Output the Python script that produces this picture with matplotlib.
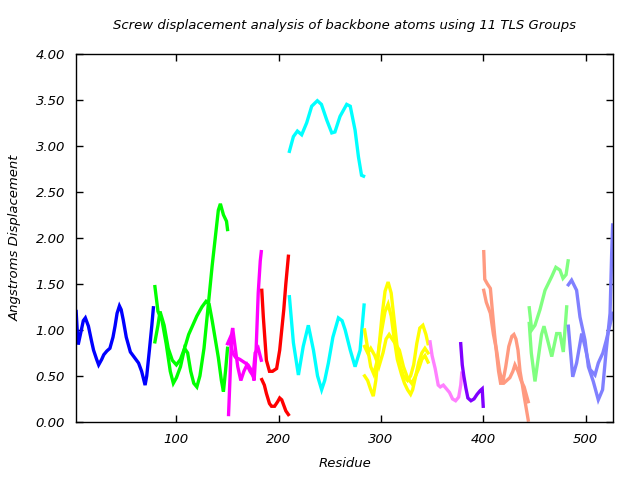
import matplotlib
matplotlib.use("Agg")
import matplotlib.pyplot as plt

# TLS group 1 (blue)
g1_x = [2, 3, 4, 6.5, 9, 11, 14, 17, 19, 22, 24, 27, 29, 32, 35, 38, 40, 42, 44.3, 46, 48, 51, 55, 59, 63, 66, 69.4, 71, 73.6, 76, 77.5]
g1_y = [1.2, 1.0, 0.84, 0.97, 1.1, 1.13, 1.04, 0.88, 0.78, 0.68, 0.62, 0.68, 0.73, 0.77, 0.8, 0.92, 1.04, 1.18, 1.26, 1.22, 1.11, 0.92, 0.76, 0.7, 0.64, 0.55, 0.4, 0.5, 0.78, 1.05, 1.24]

# TLS group 2 (green)
g2a_x = [79, 82, 86, 90, 94, 97, 100, 104, 108, 111, 114, 117, 120, 123, 127, 131, 135, 138, 141, 143, 146, 149, 150]
g2a_y = [1.47, 1.2, 1.1, 0.85, 0.55, 0.42, 0.48, 0.6, 0.8, 0.75, 0.55, 0.42, 0.38, 0.5, 0.8, 1.25, 1.7, 2.0, 2.3, 2.37, 2.25, 2.18, 2.09]
g2b_x = [79, 82, 84, 88, 92, 96, 100, 104, 108, 112, 116, 120, 125, 129, 132, 135, 138, 141, 144, 146, 148, 150]
g2b_y = [0.87, 1.05, 1.2, 1.05, 0.8, 0.67, 0.62, 0.68, 0.8, 0.95, 1.05, 1.15, 1.25, 1.31, 1.28, 1.1, 0.9, 0.7, 0.45, 0.33, 0.55, 0.8]

# TLS group 3 (magenta)
g3a_x = [151, 152.5, 154, 155, 157, 160, 163, 166, 169, 172, 175, 177, 180, 183]
g3a_y = [0.08, 0.5, 0.95, 1.02, 0.85, 0.6, 0.45, 0.55, 0.62, 0.55, 0.5, 0.75, 0.8, 0.67]
g3b_x = [150, 152, 155, 158, 162, 166, 170, 174, 176, 178, 180, 182, 183]
g3b_y = [0.85, 0.9, 0.75, 0.7, 0.68, 0.65, 0.62, 0.55, 0.45, 0.8, 1.4, 1.75, 1.85]

# TLS group 4 (red)
g4a_x = [183.5, 185, 188, 191, 194, 198, 201, 203, 205, 207, 209.5]
g4a_y = [1.43, 1.14, 0.67, 0.55, 0.55, 0.58, 0.78, 1.0, 1.22, 1.5, 1.8]
g4b_x = [183.5, 186, 188, 191, 193, 196, 199, 201, 203, 205, 207, 209.5]
g4b_y = [0.46, 0.4, 0.31, 0.2, 0.17, 0.17, 0.22, 0.26, 0.24, 0.18, 0.12, 0.08]

# TLS group 5 (cyan)
g5a_x = [210.5, 214.4, 218.3, 222.5, 227.4, 232.3, 237.8, 241.8, 247, 251.9, 255, 260, 266.5, 270, 274.7, 278, 281, 283]
g5a_y = [2.94, 3.1, 3.16, 3.12, 3.25, 3.43, 3.49, 3.45, 3.28, 3.14, 3.15, 3.32, 3.45, 3.43, 3.17, 2.88, 2.68, 2.67]
g5b_x = [210.5, 214.4, 219.3, 224, 229, 234, 238, 242, 245, 248.6, 253, 258.4, 262, 265, 270, 274.7, 279.6, 283.5]
g5b_y = [1.36, 0.86, 0.51, 0.82, 1.05, 0.78, 0.5, 0.35, 0.45, 0.64, 0.92, 1.13, 1.1, 1.0, 0.78, 0.6, 0.78, 1.27]

# TLS group 6 (yellow)
g6a_x = [284, 287, 290, 292.5, 295, 298, 301, 304, 307, 310, 313, 316, 319, 322, 326, 329, 332, 335, 338, 341, 344, 346]
g6a_y = [0.5, 0.45, 0.35, 0.28, 0.45, 0.8, 1.15, 1.42, 1.52, 1.4, 1.1, 0.8, 0.6, 0.5, 0.45, 0.5, 0.62, 0.85, 1.02, 1.05, 0.95, 0.85]
g6b_x = [284, 287, 290, 293, 296, 300, 304, 307, 310, 313, 316, 320, 323, 326, 329, 331, 334, 337, 340, 343, 346]
g6b_y = [1.0, 0.8, 0.6, 0.52, 0.65, 0.95, 1.2, 1.28, 1.15, 0.9, 0.68, 0.52, 0.42, 0.35, 0.3, 0.35, 0.5, 0.65, 0.75, 0.8, 0.75]
g6c_x = [284, 287, 290, 294, 298, 302, 305, 308, 311, 314, 318, 322, 326, 330, 333, 337, 340, 343, 346]
g6c_y = [0.82, 0.75, 0.8, 0.72, 0.6, 0.75, 0.9, 0.95, 0.9, 0.85, 0.78, 0.6, 0.48, 0.42, 0.48, 0.58, 0.68, 0.72, 0.65]

# TLS group 7 (pink)
g7_x = [348, 350, 353, 356, 358, 361, 364, 367, 370, 373, 376, 378, 379]
g7_y = [0.87, 0.72, 0.58, 0.4, 0.38, 0.4, 0.36, 0.32, 0.25, 0.23, 0.27, 0.4, 0.53]

# TLS group 8 (purple)
g8_x = [378, 379.5, 381, 383, 385, 388, 391, 394, 397, 399, 400]
g8_y = [0.85, 0.62, 0.5, 0.37, 0.26, 0.23, 0.25, 0.3, 0.34, 0.36, 0.17]

# TLS group 9 (salmon)
g9a_x = [400.5, 401.5, 404, 407, 409, 411, 413, 415, 417, 420, 423, 426, 429, 431, 434, 437, 440, 442, 444]
g9a_y = [1.85, 1.55, 1.5, 1.45, 1.2, 0.96, 0.75, 0.55, 0.42, 0.42, 0.45, 0.48, 0.55, 0.62, 0.55, 0.45, 0.38, 0.3, 0.22]
g9b_x = [400.5, 403, 407, 410, 413, 416, 419, 422, 425, 428, 430, 432, 434, 436, 438, 440, 442, 444]
g9b_y = [1.43, 1.3, 1.18, 0.95, 0.78, 0.55, 0.42, 0.6, 0.82, 0.93, 0.95, 0.9, 0.78, 0.55, 0.42, 0.28, 0.15, 0.02]

# TLS group 10 (light green)
g10a_x = [445, 447.4, 450.6, 455.5, 460.4, 467, 471, 475, 478, 481, 483]
g10a_y = [1.24, 1.0, 1.05, 1.22, 1.43, 1.58, 1.68, 1.65, 1.56, 1.6, 1.75]
g10b_x = [445, 447, 450.6, 454, 457, 459.4, 463.6, 467, 471.8, 475, 478.3, 481.6]
g10b_y = [1.07, 0.75, 0.44, 0.71, 0.95, 1.04, 0.86, 0.71, 0.96, 0.96, 0.76, 1.25]

# TLS group 11 (light blue)
g11a_x = [483.2, 486.4, 491.3, 494.6, 499.5, 502.8, 507.6, 512.5, 516.7, 520, 524, 525.5, 526.5]
g11a_y = [1.49, 1.54, 1.43, 1.14, 0.89, 0.6, 0.44, 0.24, 0.35, 0.75, 1.18, 1.8, 2.14]
g11b_x = [483.2, 487.5, 491.3, 496.3, 499.5, 504.4, 509.3, 512.5, 517, 520.4, 526.6]
g11b_y = [1.04, 0.49, 0.64, 0.96, 0.82, 0.57, 0.51, 0.64, 0.75, 0.89, 1.18]

groups = [
    ("#0000ff", [(g1_x, g1_y)]),
    ("#00ff00", [(g2a_x, g2a_y), (g2b_x, g2b_y)]),
    ("#ff00ff", [(g3a_x, g3a_y), (g3b_x, g3b_y)]),
    ("#ff0000", [(g4a_x, g4a_y), (g4b_x, g4b_y)]),
    ("#00ffff", [(g5a_x, g5a_y), (g5b_x, g5b_y)]),
    ("#ffff00", [(g6a_x, g6a_y), (g6b_x, g6b_y), (g6c_x, g6c_y)]),
    ("#ff80ff", [(g7_x, g7_y)]),
    ("#8000ff", [(g8_x, g8_y)]),
    ("#ff9a80", [(g9a_x, g9a_y), (g9b_x, g9b_y)]),
    ("#80ff80", [(g10a_x, g10a_y), (g10b_x, g10b_y)]),
    ("#8080ff", [(g11a_x, g11a_y), (g11b_x, g11b_y)]),
]

fig = plt.figure(figsize=(6.4, 4.8), dpi=100)
ax = fig.add_axes([0.119, 0.121, 0.839, 0.767])

for color, curves in groups:
    for xs, ys in curves:
        ax.plot(xs, ys, color=color, lw=2.4, solid_joinstyle="miter")

ax.set_xlim(2, 527)
ax.set_ylim(0, 4)
ax.set_xticks([100, 200, 300, 400, 500])
ax.set_yticks([0, 0.5, 1, 1.5, 2, 2.5, 3, 3.5, 4])
ax.set_yticklabels(["%.2f" % v for v in ax.get_yticks()])
ax.tick_params(direction="in", length=5, width=1, top=True, right=True, labelsize=9.5, pad=8)
for lab in ax.get_xticklabels() + ax.get_yticklabels():
    lab.set_fontstyle("italic")
for sp in ax.spines.values():
    sp.set_linewidth(1)

ax.set_title("Screw displacement analysis of backbone atoms using 11 TLS Groups",
             fontsize=9.5, style="italic", pad=18)
ax.set_xlabel("Residue", fontsize=9.5, style="italic", labelpad=8)
ax.set_ylabel("Angstroms Displacement", fontsize=9.5, style="italic", labelpad=10)

fig.savefig("out.png", dpi=100)
